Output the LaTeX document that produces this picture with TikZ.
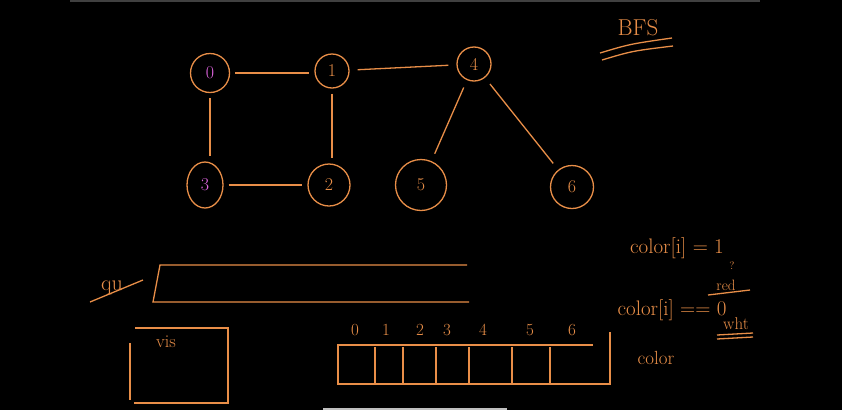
\documentclass[tikz,border=0pt]{standalone}
\usepackage{amsmath}
\usetikzlibrary{positioning,calc,shapes.geometric}
\definecolor{pen}{RGB}{232,142,72}
\definecolor{pink}{RGB}{222,100,222}
\tikzset{
  vertex/.style={draw=pen,circle,line width=1.3pt,inner sep=0pt,text=pen,font=\fontsize{18}{20}\selectfont},
  link/.style={draw=pen,line width=1.3pt,shorten >=8pt,shorten <=8pt},
  side/.style={draw=pen,line width=1.3pt,shorten >=5pt,shorten <=5pt},
  ink/.style={draw=pen,line width=1.3pt},
  note/.style={text=pen,inner sep=0pt,font=\fontsize{17}{19}\selectfont}
}
\begin{document}
\begin{tikzpicture}[x=1pt,y=-1pt]
  \fill[black] (0,0) rectangle (842,410);
  \useasboundingbox (0,0) rectangle (842,410);
  \fill[black!75] (70,0) rectangle (760,2);
  \fill[black!25] (323,407.5) rectangle (507,410);
  % graph
  \node[vertex,minimum size=39pt,text=pink] (n0) at (210,73) {0};
  \node[vertex,minimum size=34pt] (n1) at (332,71) {1};
  \node[vertex,minimum size=34pt] (n4) at (474,64) {4};
  \node[vertex,ellipse,minimum width=36pt,minimum height=46pt,text=pink] (n3) at (205,185) {3};
  \node[vertex,minimum size=42pt] (n2) at (329,185) {2};
  \node[vertex,minimum size=51pt] (n5) at (421,185) {5};
  \node[vertex,minimum size=43pt] (n6) at (572,187) {6};
  \draw[side] (n0.east) -- (n0.east -| n1.west);
  \draw[link] (n1) -- (n4);
  \draw[side] (n0.south) -- (n0.south |- n3.north);
  \draw[side] (n1.south) -- (n1.south |- n2.north);
  \draw[side] (n3.east) -- (n3.east -| n2.west);
  \draw[link] (n4) -- (n5);
  \draw[link] (n4) -- (n6);
  % title
  \node[note,font=\fontsize{23}{25}\selectfont] (bfs) at (638,28) {BFS};
  \draw[ink] (600,53) .. controls (630,44) .. (672,38);
  \draw[ink] (602,60) .. controls (632,51) .. (673,46);
  % queue
  \node[note,font=\fontsize{22}{24}\selectfont] (que) at (112,288) {qu};
  \draw[ink] (90,302) -- (143,280);
  \draw[ink] (467,265) -- (160,265) -- (153,302) -- (469,302);
  % visited
  \node[note,font=\fontsize{18}{20}\selectfont] (vis) at (166,342) {vis};
  \draw[ink] (135,328) -- (228,328) -- (228,403) -- (134,403);
  \draw[ink] (130,343) -- (130,400);
  % color array
  \draw[ink] (593,345) -- (338,345) -- (338,384) -- (610,384) -- (610,332);
  \foreach \xd in {375,403,436,469,512,550}
    \draw[ink] (\xd,347) -- (\xd,383);
  \foreach \lab/\xl in {0/355,1/386,2/420,3/447,4/483,5/530,6/572}
    \node[note] (c\lab) at (\xl,330) {\lab};
  \node[note,font=\fontsize{19}{21}\selectfont] (colr) at (656,358) {color};
  % notes
  \node[note,font=\fontsize{21}{23}\selectfont] (eq1) at (677,248) {color[i] = 1};
  \node[note,font=\fontsize{11}{13}\selectfont] (qm) at (732,266) {?};
  \node[note,font=\fontsize{15}{17}\selectfont] (red) at (726,285) {red};
  \draw[ink] (708,295) -- (750,290);
  \node[note,font=\fontsize{21}{23}\selectfont] (eq0) at (672,310) {color[i] == 0};
  \node[note] (wht) at (736,324) {wht};
  \draw[ink] (717,335) -- (753,333);
  \draw[ink] (717,339) -- (753,337);
\end{tikzpicture}
\end{document}
